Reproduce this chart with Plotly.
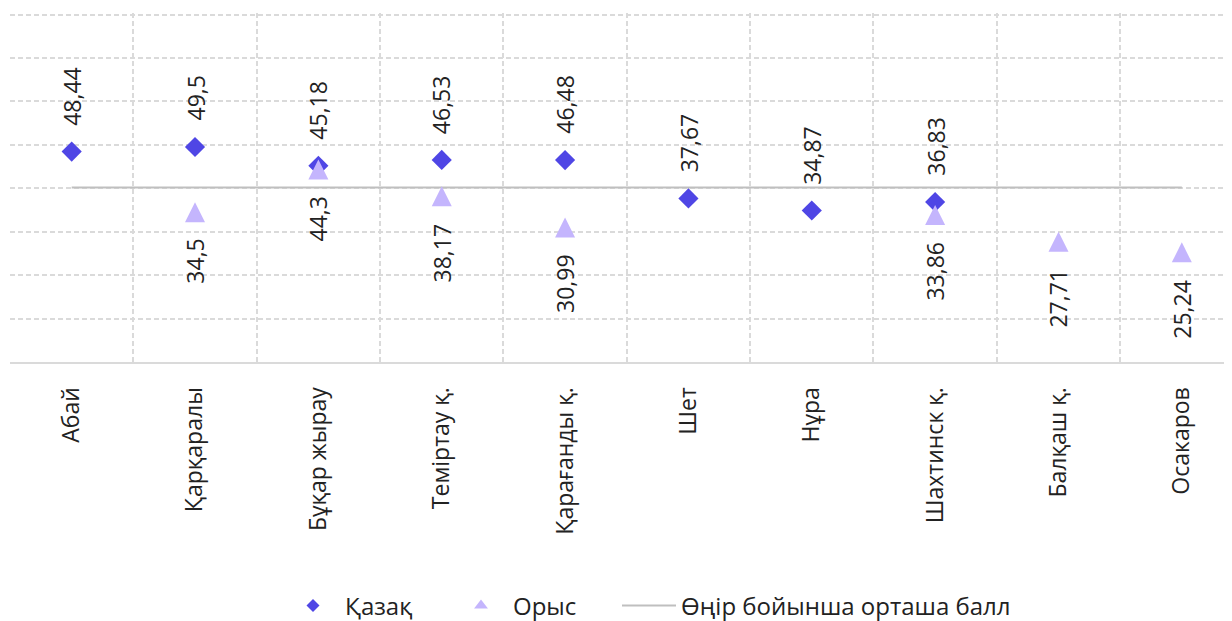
import plotly.graph_objects as go

categories = ["Абай", "Қарқаралы", "Бұқар жырау", "Теміртау қ.", "Қарағанды қ.",
              "Шет", "Нұра", "Шахтинск қ.", "Балқаш қ.", "Осакаров"]
kazakh = [48.44, 49.5, 45.18, 46.53, 46.48, 37.67, 34.87, 36.83, None, None]
russian = [None, 34.5, 44.3, 38.17, 30.99, None, None, 33.86, 27.71, 25.24]
region_avg = 40.2

KZ_COLOR = "#4F46E5"
RU_COLOR = "#C4B5FD"
AVG_COLOR = "#BFBFBF"
GRID_COLOR = "#DADADA"
TEXT_COLOR = "#222222"
FONT = "Open Sans"
FS = 23
LEG_FS = 24

# the page body adds an 8px offset; figure sized to fit the 1232x621 window
OFF = 8
W, H = 1232 - OFF, 621 - OFF
Y_MAX = 80.35
PX_PER_UNIT = (361.6 - 15) / 80
ML = 10 - OFF
PB = 361.6 - OFF
MT = PB - Y_MAX * PX_PER_UNIT
plot_w = W - ML
plot_h = PB - MT
cat_w = 123.35
span = plot_w / cat_w

fig = go.Figure()

fig.add_trace(go.Scatter(
    x=categories, y=[region_avg] * len(categories), mode="lines",
    line=dict(color=AVG_COLOR, width=2), showlegend=False, hoverinfo="skip"))
fig.add_trace(go.Scatter(
    x=categories, y=kazakh, mode="markers",
    marker=dict(symbol="diamond", size=15.5, color=KZ_COLOR),
    showlegend=False))
fig.add_trace(go.Scatter(
    x=categories, y=russian, mode="markers",
    marker=dict(symbol="arrow-down", angle=180, standoff=10, size=20, color=RU_COLOR),
    showlegend=False))

# legend entries (one legend each, to control spacing)
fig.add_trace(go.Scatter(x=[None], y=[None], mode="markers", name="Қазақ", legend="legend",
                         marker=dict(symbol="diamond", size=10, color=KZ_COLOR)))
fig.add_trace(go.Scatter(x=[None], y=[None], mode="markers", name="Орыс", legend="legend2",
                         marker=dict(symbol="triangle-up", size=12, color=RU_COLOR)))
fig.add_trace(go.Scatter(x=[None], y=[None], mode="lines", name="Өңір бойынша орташа балл",
                         legend="legend3", line=dict(color=AVG_COLOR, width=2)))

def fmt(v):
    return f"{v}".replace(".", ",")

for c, v in zip(categories, kazakh):
    if v is None:
        continue
    fig.add_annotation(x=c, y=v, text=fmt(v), textangle=-90, showarrow=False,
                       xanchor="center", yanchor="bottom", yshift=24,
                       font=dict(family=FONT, size=FS, color=TEXT_COLOR))
for c, v in zip(categories, russian):
    if v is None:
        continue
    fig.add_annotation(x=c, y=v, text=fmt(v), textangle=-90, showarrow=False,
                       xanchor="center", yanchor="top", yshift=-25,
                       font=dict(family=FONT, size=FS, color=TEXT_COLOR))

def legend_cfg(px_left):
    return dict(orientation="h", x=(px_left - OFF - ML) / plot_w, xanchor="left",
                y=(PB - (605 - OFF)) / plot_h, yanchor="middle",
                itemwidth=54,
                font=dict(family=FONT, size=LEG_FS, color=TEXT_COLOR),
                bgcolor="rgba(0,0,0,0)")

fig.update_layout(
    width=W, height=H,
    margin=dict(l=ML, r=0, t=MT, b=H - PB, pad=0, autoexpand=False),
    paper_bgcolor="white", plot_bgcolor="white",
    font=dict(family=FONT, size=FS, color=TEXT_COLOR),
    legend=legend_cfg(281),
    legend2=legend_cfg(449),
    legend3=legend_cfg(617),
    xaxis=dict(type="category", range=[-0.5, -0.5 + span], automargin=False,
               tickson="boundaries", showgrid=True, gridcolor=GRID_COLOR,
               griddash="5px,3px", gridwidth=1.5,
               showline=True, linecolor="#DADADA", linewidth=2,
               ticks="", tickangle=-90, ticklabelstandoff=14,
               tickfont=dict(family=FONT, size=FS, color=TEXT_COLOR),
               zeroline=False, fixedrange=True),
    yaxis=dict(range=[0, Y_MAX], dtick=10, showgrid=True, gridcolor=GRID_COLOR,
               griddash="5px,3px", gridwidth=1.5, showticklabels=False, automargin=False,
               zeroline=False, showline=False, ticks="", fixedrange=True),
)

fig.write_html("out.html")
